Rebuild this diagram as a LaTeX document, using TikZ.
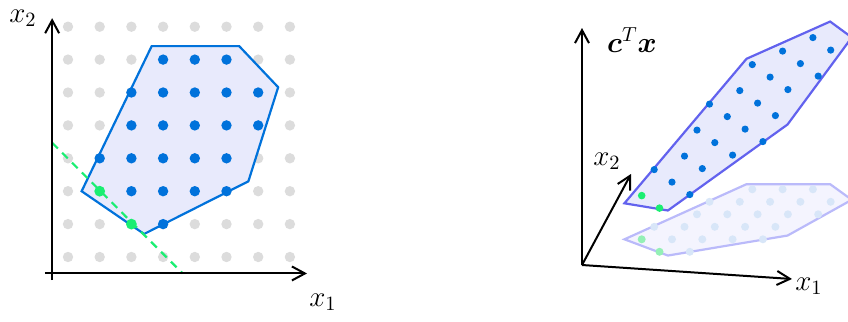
\RequirePackage{fix-cm}
\documentclass[tikz,border=0pt]{standalone}
\usepackage{bm}
\usetikzlibrary{arrows.meta,positioning}
\definecolor{Dot}{HTML}{0072DB}
\definecolor{Opt}{HTML}{1AEE72}
\definecolor{Lattice}{HTML}{DCDCDC}
\definecolor{Region}{HTML}{E8EAFC}
\definecolor{Lift}{HTML}{6262EE}
\definecolor{Shadow}{HTML}{BABAFA}
\definecolor{ShadowFill}{HTML}{F4F4FE}
\definecolor{DotPale}{HTML}{D8E6F8}
\definecolor{OptPale}{HTML}{94F0B6}
\newcommand{\hullpts}{(3.64,7.41) -- (6.40,7.41) -- (7.63,6.16) -- (6.69,3.30) -- (3.40,1.70) -- (1.43,3.00) -- cycle}
\newcommand{\feaspts}{4/7,5/7,6/7,3/6,4/6,5/6,6/6,7/6,3/5,4/5,5/5,6/5,7/5,2/4,3/4,4/4,5/4,6/4,3/3,4/3,5/3,6/3,4/2}
\newcommand{\optpts}{2/3,3/2}

\begin{document}
\begin{tikzpicture}[x=0.5pt,y=-0.5pt,
  axis/.style={line width=1pt,-{Straight Barb[length=6.5pt,width=7pt]}},
  lbl/.style={font=\fontsize{14.5}{17}\selectfont,inner sep=1pt}]
  \useasboundingbox (0,0) rectangle (848,322);
  % lattice and polytope
  \begin{scope}[shift={(36.3,289.9)},x=15.85pt,y=16.45pt]
    \foreach \i in {1,...,8} \foreach \j in {1,...,8} \fill[Lattice] (\i,\j) circle[radius=2.6pt];
    \filldraw[draw=Dot,fill=Region,line width=1.1pt] \hullpts;
    \coordinate (cs) at (0.5,4.47); \coordinate (ce) at (4.62,0.5);
    \draw[Opt,line width=1.1pt,dash pattern=on 4pt off 3pt] (cs) -- (ce);
    \foreach \i/\j in \feaspts \fill[Dot] (\i,\j) circle[radius=2.6pt];
    \foreach \i/\j in \optpts \fill[Opt] (\i,\j) circle[radius=2.7pt];
    \coordinate (xs) at (0.27,0.5); \coordinate (xe) at (8.54,0.5);
    \coordinate (ys) at (0.5,0.3); \coordinate (ye) at (0.5,8.26);
    \draw[axis] (xs) -- (xe); \draw[axis] (ys) -- (ye);
  \end{scope}
  \node[lbl] (lx2) at (23,18) {$x_2$};
  \node[lbl] (lx1) at (323,302) {$x_1$};
  % projected polytope
  \begin{scope}[shift={(543.6,276.8)},x={(15.15pt,0pt)},y={(6.25pt,6.25pt)}]
    \filldraw[draw=Shadow,fill=ShadowFill,line width=1.1pt] \hullpts;
    \foreach \i/\j in \feaspts \fill[DotPale] (\i,\j) circle[radius=2pt];
    \foreach \i/\j in \optpts \fill[OptPale] (\i,\j) circle[radius=2pt];
  \end{scope}
  % lifted polytope
  \begin{scope}[shift={(543.6,300.6)},x={(15.15pt,6.75pt)},y={(6.25pt,13pt)}]
    \filldraw[draw=Lift,fill=Region,line width=1.1pt] \hullpts;
    \foreach \i/\j in \feaspts \fill[Dot] (\i,\j) circle[radius=1.8pt];
    \foreach \i/\j in \optpts \fill[Opt] (\i,\j) circle[radius=1.9pt];
  \end{scope}
  \coordinate (O) at (582,265); \coordinate (zt) at (582,28);
  \coordinate (x1t) at (792,279); \coordinate (x2t) at (631,174);
  \draw[axis] (O) -- (zt); \draw[axis] (O) -- (x1t); \draw[axis] (O) -- (x2t);
  \node[lbl] (obj) at (632,40) {$\bm{c}^T\bm{x}$};
  \node[lbl] (rx2) at (607,161) {$x_2$};
  \node[lbl] (rx1) at (809,286) {$x_1$};
\end{tikzpicture}
\end{document}
